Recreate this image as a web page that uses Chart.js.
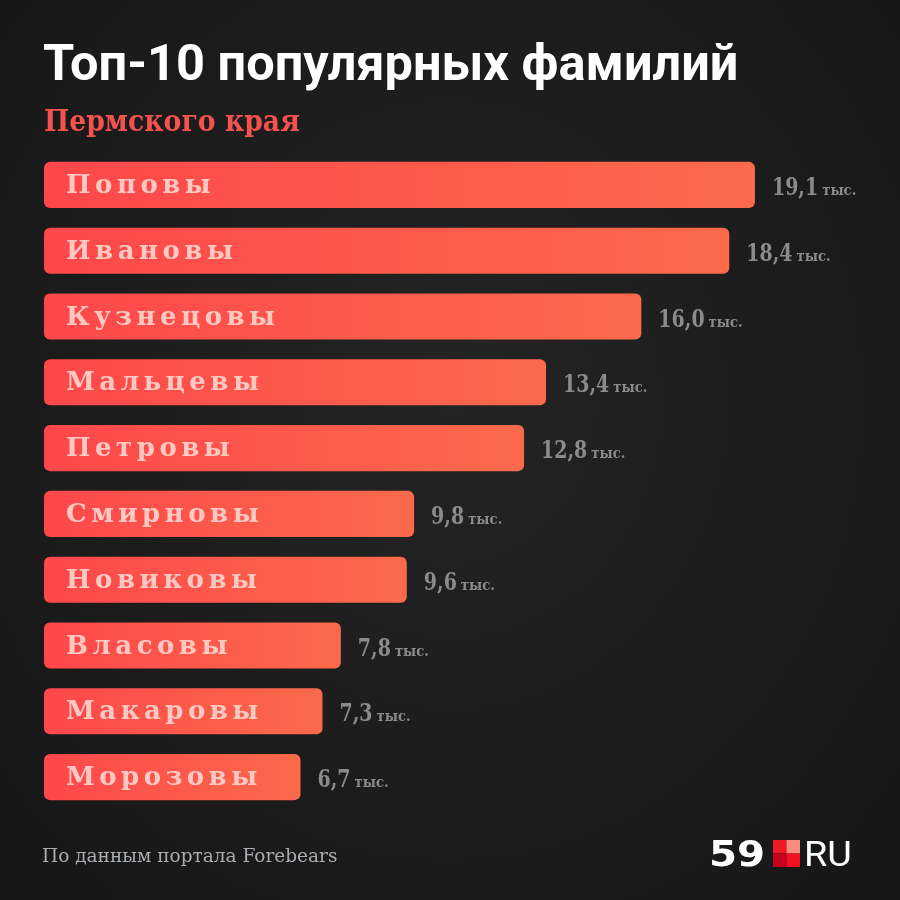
<!DOCTYPE html>
<html>
<head>
<meta charset="utf-8">
<script src="https://cdn.jsdelivr.net/npm/chart.js@4"></script>
<style>
  html, body { margin: 0; padding: 0; }
  body {
    width: 900px; height: 900px; overflow: hidden;
    background: radial-gradient(ellipse at 50% 45%, #242424 0%, #1c1c1c 55%, #161616 100%);
  }
  #chart { display: block; }
</style>
</head>
<body>
<canvas id="chart" width="900" height="900"></canvas>
<script>
// Surnames and counts (thousands)
var surnames = ['Поповы', 'Ивановы', 'Кузнецовы', 'Мальцевы', 'Петровы',
                'Смирновы', 'Новиковы', 'Власовы', 'Макаровы', 'Морозовы'];
var counts = [19.1, 18.4, 16.0, 13.4, 12.8, 9.8, 9.6, 7.8, 7.3, 6.7];
var unitLabel = 'тыс.';

var titleText = 'Топ-10 популярных фамилий';
var subtitleText = 'Пермского края';
var sourceText = 'По данным портала Forebears';

var SLAB = '"DejaVu Serif", "Liberation Serif", serif';

/**
 * Gradient per bar: red on the left, orange on the right
 */
function barGradient(ctx) {
	var chart = ctx.chart;
	if (!chart.chartArea || !chart.scales.x) {
		return '#fe4a4b';
	}
	var x0 = chart.scales.x.getPixelForValue(-0.3);
	var x1 = chart.scales.x.getPixelForValue(counts[ctx.dataIndex]);
	var g = chart.ctx.createLinearGradient(x0, 0, x1, 0);
	g.addColorStop(0, '#fe474b');
	g.addColorStop(1, '#fa6a4b');
	return g;
}

/**
 * Draw letter-spaced text char by char
 */
function spacedText(c, text, x, y, spacing) {
	for (var i = 0; i < text.length; i++) {
		c.fillText(text[i], x, y);
		x += c.measureText(text[i]).width + spacing;
	}
}

/**
 * Draw text squeezed or stretched horizontally
 */
function scaledText(c, text, x, y, sx) {
	c.save();
	c.translate(x, y);
	c.scale(sx, 1);
	c.fillText(text, 0, 0);
	var w = c.measureText(text).width * sx;
	c.restore();
	return w;
}

// Labels inside bars and values after bars
var barTextPlugin = {
	id: 'barText',
	afterDatasetsDraw: function(chart) {
		var c = chart.ctx;
		var meta = chart.getDatasetMeta(0);
		c.save();
		c.textBaseline = 'alphabetic';
		meta.data.forEach(function(el, i) {
			// surname
			c.font = 'bold 26px ' + SLAB;
			c.fillStyle = '#ffc9c2';
			spacedText(c, surnames[i], el.base + 22, el.y + 8, 4.5);

			// value
			var num = counts[i].toFixed(1).replace('.', ',');
			var x = el.x + 17;
			c.fillStyle = '#8b8b8b';
			c.font = 'bold 25px ' + SLAB;
			var w = scaledText(c, num, x, el.y + 10, 0.76);
			c.font = 'bold 15px ' + SLAB;
			scaledText(c, unitLabel, x + w + 4, el.y + 10, 0.88);
		});
		c.restore();
	}
};

// Title, subtitle, source and logo
var decorPlugin = {
	id: 'decor',
	afterDraw: function(chart) {
		var c = chart.ctx;
		c.save();
		c.textBaseline = 'alphabetic';
		c.fillStyle = '#ffffff';
		c.font = 'bold 50.5px Roboto, "Noto Sans", sans-serif';
		c.fillText(titleText, 43, 80);

		c.fillStyle = '#f4524f';
		c.font = 'bold 30px ' + SLAB;
		scaledText(c, subtitleText, 44, 131, 0.89);

		c.fillStyle = '#a9acb0';
		c.font = '18.5px ' + SLAB;
		c.fillText(sourceText, 42, 862);

		// logo 59■RU
		c.fillStyle = '#ffffff';
		c.font = 'bold 35px "DejaVu Sans", sans-serif';
		scaledText(c, '59', 709, 866, 1.15);
		var sx = 773, sy = 840, s = 13.5;
		c.fillStyle = '#f01a24'; c.fillRect(sx, sy, s, s);
		c.fillStyle = '#f98d7d'; c.fillRect(sx + s, sy, s, s);
		c.fillStyle = '#c8001c'; c.fillRect(sx, sy + s, s, s);
		c.fillStyle = '#f2121f'; c.fillRect(sx + s, sy + s, s, s);
		c.fillStyle = '#ffffff';
		c.font = '35px Roboto, sans-serif';
		scaledText(c, 'RU', 804, 866, 1.08);
		c.restore();
	}
};

new Chart(document.getElementById('chart'), {
	type: 'bar',
	data: {
		labels: surnames,
		datasets: [{
			data: counts,
			base: -0.3,
			backgroundColor: barGradient,
			borderRadius: 6,
			borderSkipped: false,
			barPercentage: 0.7,
			categoryPercentage: 1.0
		}]
	},
	options: {
		responsive: false,
		animation: false,
		indexAxis: 'y',
		layout: {
			padding: { left: 44, right: 30, top: 152, bottom: 90 }
		},
		plugins: {
			legend: { display: false },
			tooltip: { enabled: false }
		},
		scales: {
			x: { display: false, min: -0.3, max: 22.24 },
			y: { display: false }
		}
	},
	plugins: [barTextPlugin, decorPlugin]
});
</script>
</body>
</html>
